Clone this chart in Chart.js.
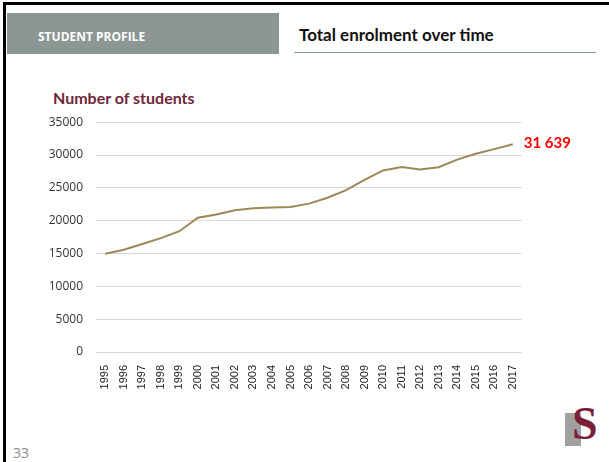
<!DOCTYPE html>
<html>
<head>
<meta charset="utf-8">
<script src="https://cdn.jsdelivr.net/npm/chart.js@4"></script>
<style>
  html, body { margin: 0; padding: 0; background: #fff; }
  body { width: 609px; height: 462px; position: relative; overflow: hidden; }
  .frame-top { position: absolute; left: 3px; top: 2px; width: 606px; height: 3px; background: #000; }
  .frame-left { position: absolute; left: 3px; top: 2px; width: 3px; height: 460px; background: #000; }
  .section { position: absolute; left: 7px; top: 13px; width: 272px; height: 41px; background: #8c9695;
             color: #fff; font: bold 12px "Open Sans", sans-serif; line-height: 41px; }
  .section span { position: absolute; left: 31px; top: 3px; }
  .title { position: absolute; left: 299px; top: 24px; font: bold 17px Lato, sans-serif; color: #111; }
  .title-rule { position: absolute; left: 294px; top: 52px; width: 302px; height: 1px; background: #8c9695; }
  .axis-title { position: absolute; left: 53px; top: 88px; font: bold 16px Lato, sans-serif; color: #6e2639; }
  .page-no { position: absolute; left: 13px; top: 443px; font: 14px "Open Sans", sans-serif; color: #8a8a8a; }
  .logo { position: absolute; left: 565px; top: 413px; width: 16px; height: 33px; background: #a0a0a0; }
  .logo-s { position: absolute; left: 572px; top: 398px; font: bold 46px "Liberation Serif", serif; color: #7a2038; line-height: 52px; }
  #chartWrap { position: absolute; left: 20px; top: 102px; width: 560px; height: 299px; }
  #chartWrap canvas { display: block; }
</style>
</head>
<body>
<div class="frame-top"></div>
<div class="frame-left"></div>
<div class="section"><span>STUDENT PROFILE</span></div>
<div class="title">Total enrolment over time</div>
<div class="title-rule"></div>
<div class="axis-title">Number of students</div>
<div class="page-no">33</div>
<div class="logo"></div>
<div class="logo-s">S</div>
<div id="chartWrap"><canvas id="enrolChart" width="560" height="299"></canvas></div>

<script>
// enrolment per year
const years = ["1995","1996","1997","1998","1999","2000","2001","2002","2003","2004","2005","2006",
               "2007","2008","2009","2010","2011","2012","2013","2014","2015","2016","2017"];
const students = [14950, 15570, 16450, 17350, 18400, 20450, 20950, 21600, 21900, 22000, 22100, 22600,
                  23500, 24650, 26200, 27650, 28180, 27800, 28150, 29300, 30200, 30900, 31639];
const yTicks = [0, 5000, 10000, 15000, 20000, 25000, 30000, 35000];

// "31 639" style thousands separator
const fmtSpace = (v) => String(v).replace(/\B(?=(\d{3})+(?!\d))/g, " ");

// writes the latest value next to the end of the line
const lastValueLabel = {
  id: "lastValueLabel",
  afterDatasetsDraw(chart) {
    const meta = chart.getDatasetMeta(0);
    const pt = meta.data[meta.data.length - 1];
    const val = chart.data.datasets[0].data[meta.data.length - 1];
    const ctx = chart.ctx;
    ctx.save();
    ctx.font = "bold 15px Lato, sans-serif";
    ctx.fillStyle = "#ff0000";
    ctx.textAlign = "left";
    ctx.textBaseline = "middle";
    ctx.fillText(fmtSpace(val), pt.x + 11, pt.y - 1);
    ctx.restore();
  }
};

const ctx = document.getElementById("enrolChart").getContext("2d");
new Chart(ctx, {
  type: "line",
  data: {
    labels: years,
    datasets: [{
      data: students,
      borderColor: "#9c8756",
      borderWidth: 2,
      pointRadius: 0,
      tension: 0,
      fill: false
    }]
  },
  options: {
    responsive: false,
    animation: false,
    layout: { padding: { top: 0, right: 58, left: 0, bottom: 0 } },
    plugins: { legend: { display: false }, tooltip: { enabled: false } },
    scales: {
      x: {
        offset: true,
        grid: { display: false, drawTicks: false },
        border: { display: false },
        ticks: {
          autoSkip: false,
          minRotation: 90,
          maxRotation: 90,
          padding: 13,
          color: "#262626",
          font: { family: "Liberation Sans", size: 11 }
        },
        afterFit: (scale) => { scale.height = 49; }
      },
      y: {
        min: 0,
        max: 35000,
        afterBuildTicks: (scale) => { scale.ticks = yTicks.map((v) => ({ value: v })); },
        grid: { color: "#d9d9d9", lineWidth: 1, drawTicks: false },
        border: { display: false },
        ticks: {
          padding: 13,
          color: "#333333",
          font: { family: "Open Sans", size: 12 },
          callback: (v) => String(v)
        },
        afterFit: (scale) => { scale.width = 76; }
      }
    }
  },
  plugins: [lastValueLabel]
});
</script>
</body>
</html>
